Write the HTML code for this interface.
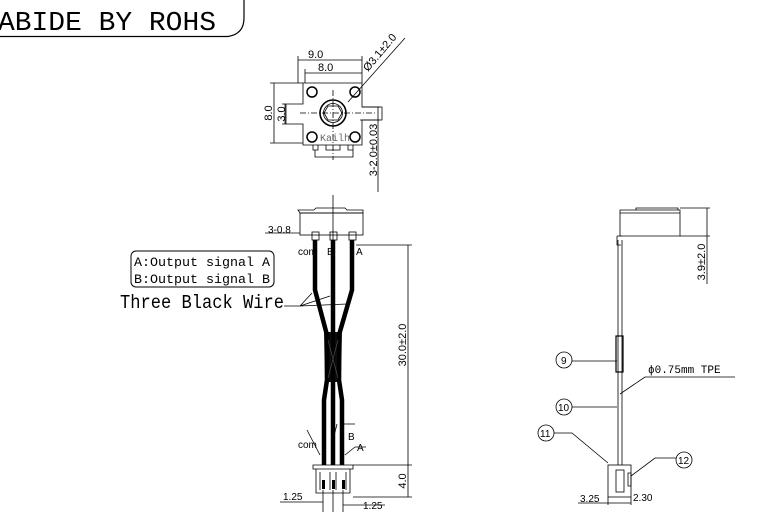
<!DOCTYPE html>
<html><head><meta charset="utf-8"><style>
html,body{margin:0;padding:0;background:#fff;width:771px;height:514px;overflow:hidden}
svg{display:block}
.m{font-family:"Liberation Mono","DejaVu Sans Mono",monospace}
.s{font-family:"Liberation Sans",sans-serif}
</style></head><body>
<svg width="771" height="514" viewBox="0 0 771 514" xmlns="http://www.w3.org/2000/svg" fill="none" stroke="#000" stroke-width="1">
<!-- banner -->
<text x="-2" y="30" class="m" font-size="27" fill="#000" stroke="none" textLength="218" lengthAdjust="spacingAndGlyphs">ABIDE BY ROHS</text>
<path d="M0 36.5 H228 Q244 34 244 18 V0" stroke-width="1.2"/>

<!-- top view -->
<g stroke-width="0.8">
<path d="M303 83 H362 V107 H382 V120 H362 V145 H303 V124 H285 V104 H303 Z"/>
<circle cx="312" cy="92" r="5" stroke-width="1.5"/><circle cx="355" cy="92" r="5" stroke-width="1.5"/>
<circle cx="312" cy="137" r="5" stroke-width="1.5"/><circle cx="355" cy="137" r="5" stroke-width="1.5"/>
<circle cx="333" cy="113" r="13" stroke-width="1.6"/><circle cx="333" cy="113" r="9.5"/>
<path d="M328 106 H338 L342 113 L338 120 H328 L324 113 Z"/>
<path d="M313 145 V150 H318 V145 M326 145 V150 H340 V145 M348 145 V150 H353 V145" />
<path d="M315 150 V157 H353 V150"/>
<path d="M300 113 H376 M333 90 V160" stroke-dasharray="6 2 1 2"/>
<path d="M298 56 V83 M362 56 V83 M298 60 H362 M305 69 V83 M305 73 H362"/>
<path d="M270 83 H303 M270 143 H303 M274 83 V143 M282 104 H285 M282 124 H285 M286 104 V124"/>
<path d="M362 107 H380 M378 107 V192 M360 120 H380"/>
<path d="M348 102 L405 38"/>
</g>
<g fill="#000" stroke="none" class="s" font-size="11">
<text x="308" y="58">9.0</text><text x="318" y="71">8.0</text>
<text transform="translate(272 113) rotate(-90)" text-anchor="middle">8.0</text>
<text transform="translate(285 114) rotate(-90)" text-anchor="middle">3.0</text>
<text transform="translate(377 150) rotate(-90)" text-anchor="middle">3-2.0±0.03</text>
<text transform="translate(368 72) rotate(-50)">Ø3.1±2.0</text>
<text x="320" y="141" font-size="10" fill="#666" class="m">Kailh</text>
</g>

<!-- front view -->
<g stroke-width="0.8">
<path d="M298 210 H314 L316 208 H345 L347 210 H363 V213 H300 Z"/>
<rect x="300" y="213" width="63" height="22"/>
<path d="M333 195 V245"/>
<rect x="312" y="232" width="7" height="8"/><rect x="330" y="232" width="7" height="8"/><rect x="349" y="232" width="7" height="8"/>
<path d="M265 233 H300"/>
<path d="M356 245 H412 M408 245 V497 M353 465 H412 M353 497 H412"/>
<path d="M313 465 H353 V469 H313 Z"/>
<path d="M316 469 V493 H350 V469"/>
<path d="M320 472 V490 M330 472 V490 M336 472 V490 M346 472 V490"/>
<path d="M323 490 V512 M333 490 V512 M343 490 V512 M280 502 H323 M343 505 H385"/>
<path d="M284 306 H300 L312 293 M300 306 L330 296 M300 306 L347 304"/>
<path d="M307 430 L320 455 M340 424 H355 M337 424 L333 440 M355 447 L345 455 M355 447 H366"/>
</g>
<path d="M324 332 L342 332 L341 382 L325 382 Z" fill="#111" stroke="none"/>
<g stroke="#000" stroke-width="4.5" fill="none">
<path d="M315 240 V290 L327 335 V380 L324 400 V465"/>
<path d="M333 240 V335 V380 L333 400 V465"/>
<path d="M352 240 V290 L339 335 V380 L342 400 V465"/>
</g>
<path d="M328 340 L338 378 M338 340 L328 378" stroke="#555" stroke-width="0.6"/>
<g fill="#000" stroke="none">
<rect x="322" y="480" width="3" height="9"/><rect x="332" y="480" width="3" height="9"/><rect x="342" y="480" width="3" height="9"/>
</g>
<rect x="131" y="251" width="143" height="36" rx="5" stroke-width="1"/>
<g fill="#000" stroke="none">
<text x="134" y="266" class="m" font-size="12.5" textLength="136" lengthAdjust="spacingAndGlyphs">A:Output signal A</text>
<text x="134" y="283" class="m" font-size="12.5" textLength="136" lengthAdjust="spacingAndGlyphs">B:Output signal B</text>
<text x="120" y="308" class="m" font-size="19" textLength="164" lengthAdjust="spacingAndGlyphs">Three Black Wire</text>
<text x="268" y="233" class="s" font-size="10">3-0.8</text>
<text x="298" y="255" class="s" font-size="10">com</text>
<text x="327" y="255" class="s" font-size="10">B</text>
<text x="356" y="255" class="s" font-size="10">A</text>
<text x="298" y="448" class="s" font-size="10">com</text>
<text x="348" y="440" class="s" font-size="10">B</text>
<text x="357" y="451" class="s" font-size="10">A</text>
<text x="283" y="500" class="s" font-size="10">1.25</text>
<text x="363" y="509" class="s" font-size="10">1.25</text>
<text transform="translate(406 345) rotate(-90)" text-anchor="middle" class="s" font-size="11">30.0±2.0</text>
<text transform="translate(406 481) rotate(-90)" text-anchor="middle" class="s" font-size="11">4.0</text>
</g>

<!-- side view -->
<g stroke-width="0.8">
<path d="M620 210 H680 V236 H620 Z M620 213 H680 M636 210 V208 H678 V210"/>
<path d="M617 236 V245 H621 M617 236 H622"/>
<path d="M618 240 V465 M622 240 V465"/>
<rect x="616" y="336" width="7" height="36" stroke-width="1.2"/>
<path d="M680 208 H710 M707 208 V284 M680 236 H710"/>
<rect x="608" y="465" width="23" height="32"/>
<rect x="616" y="470" width="8" height="22"/>
<path d="M628 473 H631 V486 H628 Z"/>
<path d="M608 497 V505 M631 497 V505 M578 503 H631"/>
<circle cx="564" cy="360" r="8"/><circle cx="564" cy="407" r="8"/><circle cx="546" cy="433" r="8"/><circle cx="684" cy="460" r="8"/>
<path d="M572 361 H617 M572 407 H617 M554 433 H572 L608 463 M676 458 H655 L631 476"/>
<path d="M620 394 L645 377 H735"/>
</g>
<g fill="#000" stroke="none" class="s" font-size="10">
<text x="561" y="364">9</text><text x="558" y="411">10</text><text x="540" y="437">11</text><text x="678" y="464">12</text>
<text x="580" y="502">3.25</text><text x="633" y="501">2.30</text>
<text x="648" y="373" class="m" font-size="11">ϕ0.75mm TPE</text>
<text transform="translate(705 262) rotate(-90)" text-anchor="middle" font-size="11">3.9±2.0</text>
</g>
</svg>
</body></html>
